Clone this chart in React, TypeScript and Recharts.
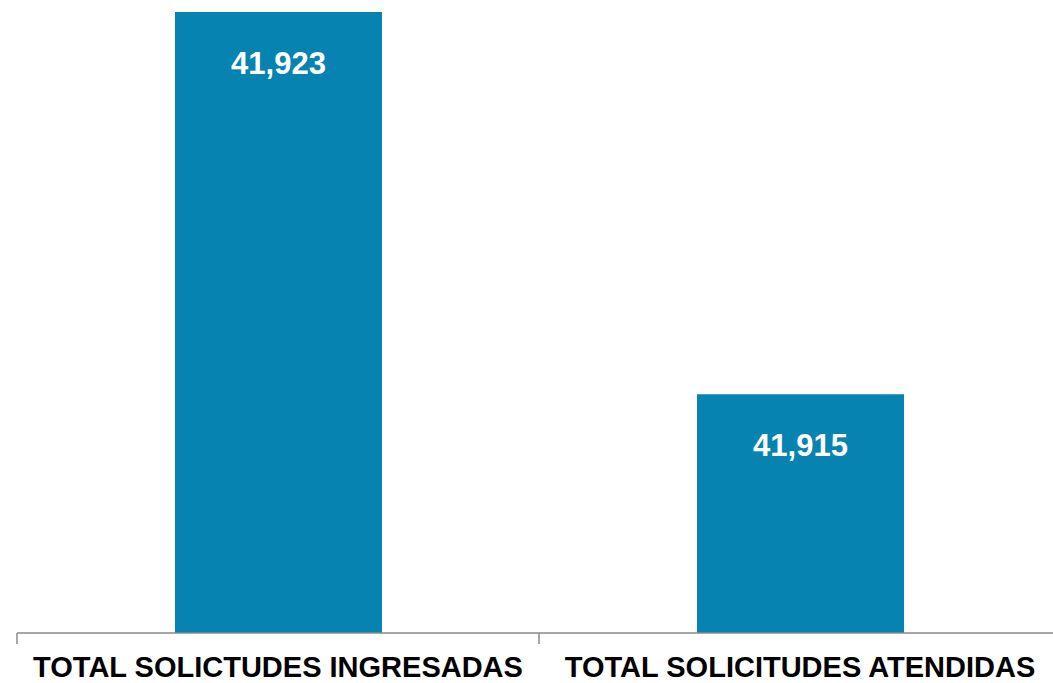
import React from 'react'
import { BarChart, Bar, XAxis, YAxis, LabelList } from 'recharts'

const categories = ['TOTAL SOLICITUDES INGRESADAS', 'TOTAL SOLICITUDES ATENDIDAS']
const categoryLabels = ['TOTAL SOLICTUDES INGRESADAS', 'TOTAL SOLICITUDES ATENDIDAS']
const totals = [41923, 41915]
const yDomain = [41910, 41923]

const data = categories.map((name, i) => ({
  name,
  label: categoryLabels[i],
  total: totals[i]
}))

const FONT = '"Liberation Sans", Arial, Helvetica, sans-serif'
const AXIS_GRAY = '#8a8a8a'
const TICK_MARGIN = 23

// category label plus the separator ticks at the band edges (Excel style)
const CategoryTick = (props: any) => {
  const { x, y, payload, index, visibleTicksCount } = props
  const half = payload.offset ?? 0
  const axisY = y - TICK_MARGIN
  const label = categoryLabels[categories.indexOf(payload.value)] ?? payload.value
  const isLast = index === (visibleTicksCount ?? categories.length) - 1
  return (
    <g>
      <line x1={x - half} x2={x - half} y1={axisY} y2={axisY + 11} stroke={AXIS_GRAY} strokeWidth={1.5} />
      {isLast && (
        <line x1={x + half} x2={x + half} y1={axisY} y2={axisY + 11} stroke={AXIS_GRAY} strokeWidth={1.5} />
      )}
      <text
        x={x}
        y={y}
        dy="0.71em"
        textAnchor="middle"
        fill="#000"
        style={{ fontSize: 29, fontWeight: 700, fontFamily: FONT }}
      >
        {label}
      </text>
    </g>
  )
}

const App: React.FC = () => {
  return (
    <div style={{ width: 1053, height: 683, overflow: 'hidden', position: 'fixed', left: 0, top: 0, background: '#fff' }}>
      <BarChart
        width={1075}
        height={683}
        data={data}
        margin={{ top: 12, right: 14, bottom: 0, left: 17 }}
      >
        <XAxis
          dataKey="name"
          height={50}
          axisLine={{ stroke: AXIS_GRAY, strokeWidth: 1.5 }}
          tickLine={false}
          tickSize={0}
          tickMargin={TICK_MARGIN}
          interval={0}
          tick={<CategoryTick />}
        />
        <YAxis hide domain={yDomain} allowDataOverflow />
        <Bar
          dataKey="total"
          fill="#0683B0"
          barSize={207}
          isAnimationActive={false}
        >
          <LabelList
            dataKey="total"
            position="insideTop"
            offset={40}
            formatter={(v: number) => v.toLocaleString('en-US')}
            fill="#fff"
            style={{ fontSize: 31, fontWeight: 700, fontFamily: FONT }}
          />
        </Bar>
      </BarChart>
    </div>
  )
}

export default App
